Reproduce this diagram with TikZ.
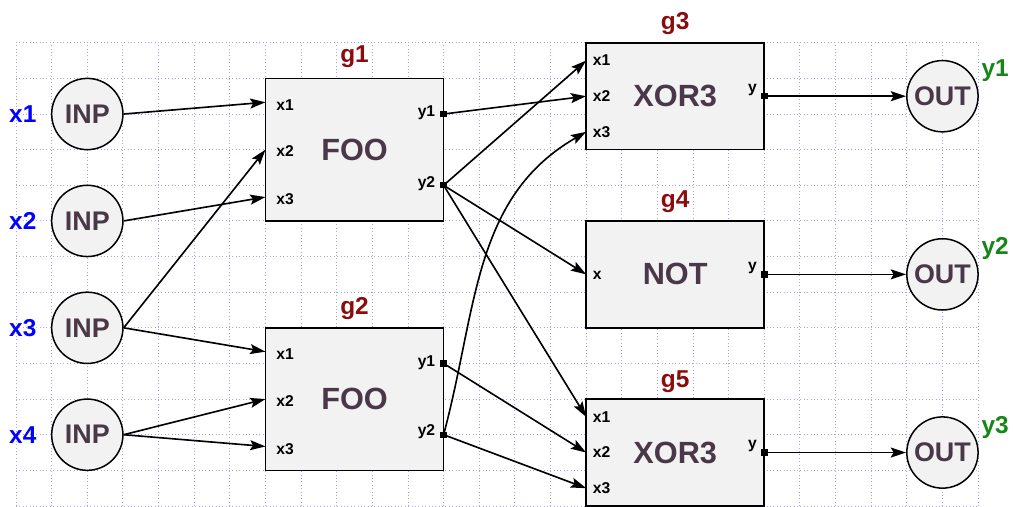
\documentclass[tikz,border=0pt]{standalone}
\usepackage{fontspec}
\setmainfont{Liberation Sans}
\usetikzlibrary{arrows.meta,positioning}

\definecolor{gridblue}{RGB}{165,165,228}
\definecolor{boxgray}{RGB}{242,242,242}
\definecolor{namecol}{RGB}{74,56,72}
\definecolor{gatered}{RGB}{139,12,12}
\definecolor{inblue}{RGB}{0,0,255}
\definecolor{outgreen}{RGB}{22,135,22}

\tikzset{
  pin/.style={circle, draw, line width=1.2pt, fill=boxgray, minimum size=2cm, inner sep=0pt,
    text=namecol, font=\fontsize{21.5}{24}\selectfont\bfseries},
  gate/.style={rectangle, draw, line width=1.3pt, fill=boxgray, minimum width=5cm, minimum height=4cm,
    inner sep=0pt, text=namecol, font=\fontsize{24.5}{28}\selectfont\bfseries},
  gname/.style={text=gatered, inner sep=0pt, font=\fontsize{19.5}{22}\selectfont\bfseries},
  inlab/.style={text=inblue, inner sep=0pt, font=\fontsize{19.5}{22}\selectfont\bfseries},
  outlab/.style={text=outgreen, inner sep=0pt, font=\fontsize{19.5}{22}\selectfont\bfseries},
  portlab/.style={inner sep=0pt, font=\fontsize{12.5}{14}\selectfont\bfseries},
  outport/.style={rectangle, fill=black, minimum size=1.8mm, inner sep=0pt},
  wire/.style={line width=1.3pt, -{Stealth[length=4.3mm,width=2.8mm,inset=0.8mm]}}
}

\begin{document}
\begin{tikzpicture}
  \useasboundingbox (-0.45,-13.02) rectangle (27.98,1.2);

  %Raster
  \draw[gridblue, dotted, line width=0.7pt] (0,0) grid (27,-13);

  %Eingaenge
  \node[pin] (in1) at (2,-2) {INP};
  \node[pin] (in2) at (2,-5) {INP};
  \node[pin] (in3) at (2,-8) {INP};
  \node[pin] (in4) at (2,-11) {INP};
  \node[inlab, left=0.4 of in1] (lx1) {x1};
  \node[inlab, left=0.4 of in2] (lx2) {x2};
  \node[inlab, left=0.4 of in3] (lx3) {x3};
  \node[inlab, left=0.4 of in4] (lx4) {x4};

  %Gatter
  \node[gate] (g1) at (9.5,-3) {FOO};
  \node[gate] (g2) at (9.5,-10) {FOO};
  \node[gate, minimum height=3cm] (g3) at (18.5,-1.5) {XOR3};
  \node[gate, minimum height=3cm] (g4) at (18.5,-6.5) {NOT};
  \node[gate, minimum height=3cm] (g5) at (18.5,-11.5) {XOR3};

  \node[gname] (n1) at (9.5,-0.4) {g1};
  \node[gname] (n2) at (9.5,-7.45) {g2};
  \node[gname] (n3) at (18.5,0.55) {g3};
  \node[gname] (n4) at (18.5,-4.45) {g4};
  \node[gname] (n5) at (18.5,-9.5) {g5};

  %Anschluesse links
  \coordinate (g1x1) at (7,-1.67);
  \coordinate (g1x2) at (7,-3);
  \coordinate (g1x3) at (7,-4.33);
  \coordinate (g2x1) at (7,-8.67);
  \coordinate (g2x2) at (7,-10);
  \coordinate (g2x3) at (7,-11.33);
  \coordinate (g3x1) at (16,-0.5);
  \coordinate (g3x2) at (16,-1.5);
  \coordinate (g3x3) at (16,-2.5);
  \coordinate (g4x)  at (16,-6.5);
  \coordinate (g5x1) at (16,-10.5);
  \coordinate (g5x2) at (16,-11.5);
  \coordinate (g5x3) at (16,-12.5);

  \node[portlab, anchor=west] (t1x1) at (7.3,-1.75) {x1};
  \node[portlab, anchor=west] (t1x2) at (7.3,-3.05) {x2};
  \node[portlab, anchor=west] (t1x3) at (7.3,-4.4) {x3};
  \node[portlab, anchor=west] (t2x1) at (7.3,-8.75) {x1};
  \node[portlab, anchor=west] (t2x2) at (7.3,-10.05) {x2};
  \node[portlab, anchor=west] (t2x3) at (7.3,-11.4) {x3};
  \node[portlab, anchor=west] (t3x1) at (16.18,-0.5) {x1};
  \node[portlab, anchor=west] (t3x2) at (16.18,-1.5) {x2};
  \node[portlab, anchor=west] (t3x3) at (16.18,-2.5) {x3};
  \node[portlab, anchor=west] (t4x)  at (16.18,-6.52) {x};
  \node[portlab, anchor=west] (t5x1) at (16.18,-10.5) {x1};
  \node[portlab, anchor=west] (t5x2) at (16.18,-11.5) {x2};
  \node[portlab, anchor=west] (t5x3) at (16.18,-12.5) {x3};

  %Anschluesse rechts
  \node[portlab, anchor=east] (t1y1) at (11.77,-1.95) {y1};
  \node[portlab, anchor=east] (t1y2) at (11.77,-3.95) {y2};
  \node[portlab, anchor=east] (t2y1) at (11.77,-8.98) {y1};
  \node[portlab, anchor=east] (t2y2) at (11.77,-10.92) {y2};
  \node[portlab, anchor=east] (t3y)  at (20.8,-1.32) {y};
  \node[portlab, anchor=east] (t4y)  at (20.8,-6.32) {y};
  \node[portlab, anchor=east] (t5y)  at (20.8,-11.32) {y};

  %Ausgaenge
  \node[pin] (out1) at (26,-1.5) {OUT};
  \node[pin] (out2) at (26,-6.5) {OUT};
  \node[pin] (out3) at (26,-11.5) {OUT};
  \node[outlab] (ly1) at (27.48,-0.77) {y1};
  \node[outlab] (ly2) at (27.48,-5.77) {y2};
  \node[outlab] (ly3) at (27.48,-10.8) {y3};

  %Leitungen
  \draw[wire] (in1.east) -- (g1x1);
  \draw[wire] (in2.east) -- (g1x3);
  \draw[wire] (in3.east) -- (g1x2);
  \draw[wire] (in3.east) -- (g2x1);
  \draw[wire] (in4.east) -- (g2x2);
  \draw[wire] (in4.east) -- (g2x3);

  \draw[wire] (12,-2) -- (g3x2);
  \draw[wire] (12,-4) -- (g3x1);
  \draw[wire] (12,-4) -- (g4x);
  \draw[wire] (12,-4) -- (g5x1);
  \draw[wire] (12,-9) -- (g5x2);
  \draw[wire] (12,-11) to[out=75,in=210] (g3x3);
  \draw[wire] (12,-11) -- (g5x3);

  \draw[wire] (21,-1.5) -- (out1);
  \draw[wire] (21,-6.5) -- (out2);
  \draw[wire] (21,-11.5) -- (out3);

  %Ports
  \node[outport] (g1y1) at (12,-2) {};
  \node[outport] (g1y2) at (12,-4) {};
  \node[outport] (g2y1) at (12,-9) {};
  \node[outport] (g2y2) at (12,-11) {};
  \node[outport] (g3y)  at (21,-1.5) {};
  \node[outport] (g4y)  at (21,-6.5) {};
  \node[outport] (g5y)  at (21,-11.5) {};

\end{tikzpicture}
\end{document}
